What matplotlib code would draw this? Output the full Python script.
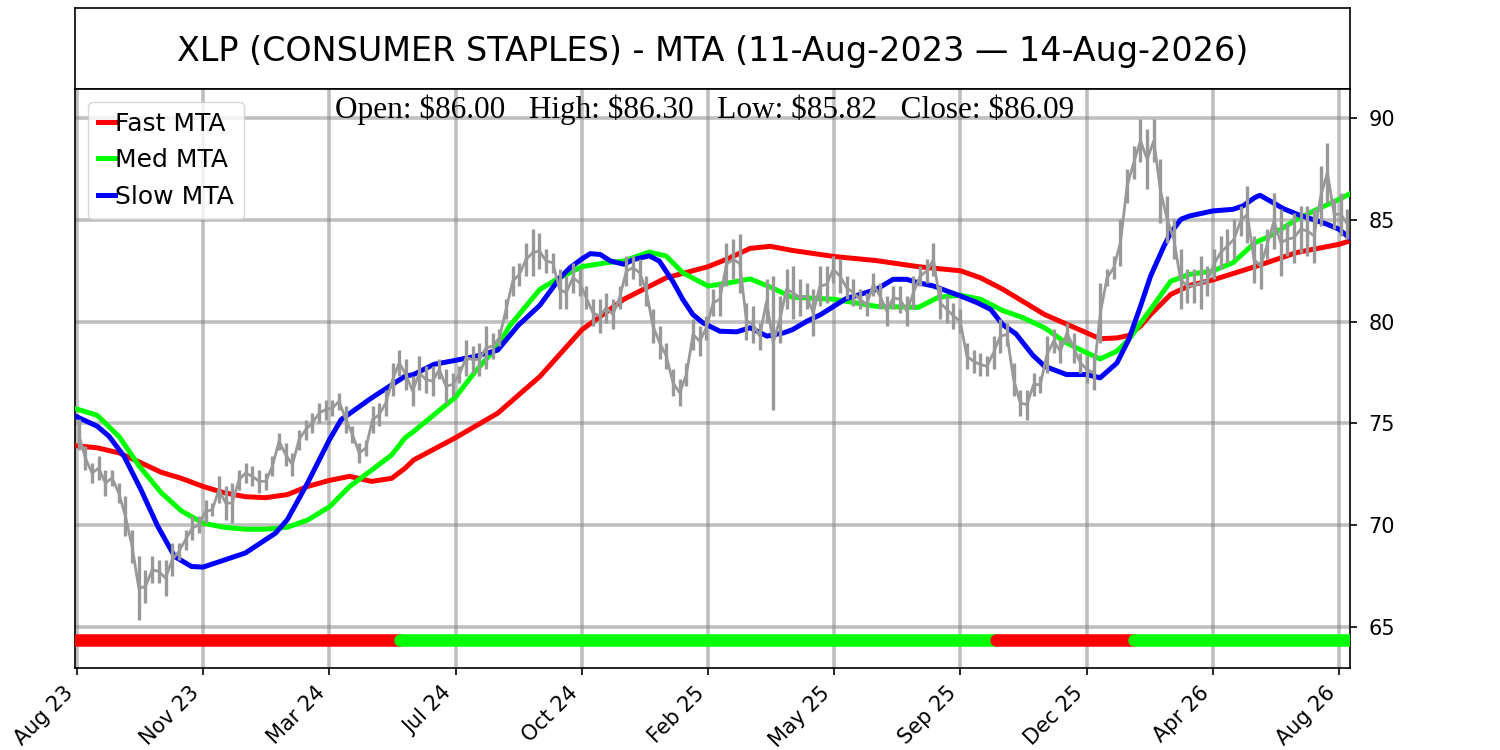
import numpy as np
import matplotlib
matplotlib.use('Agg')
import matplotlib.pyplot as plt

# x axis is bar index (trading days), labels every 75 bars
tick_idx = [0, 75, 150, 225, 300, 375, 450, 525, 600, 675, 750]
tick_labels = ['Aug 23', 'Nov 23', 'Mar 24', 'Jul 24', 'Oct 24', 'Feb 25',
               'May 25', 'Sep 25', 'Dec 25', 'Apr 26', 'Aug 26']

# price range per ~4-bar bucket
price_hi = [75.2, 73.87, 73.05, 73.38, 72.73, 72.73, 72.07, 71.41, 69.77, 68.46,
            67.8, 68.46, 68.3, 68.3, 69.12, 69.12, 69.77, 70.43, 70.43, 71.25,
            71.09, 72.4, 71.91, 72.07, 72.73, 73.05, 72.89, 72.73, 72.56, 73.38,
            74.53, 74.04, 73.55, 74.7, 75.19, 75.51, 76.0, 76.17, 76.17, 76.5,
            75.84, 74.86, 74.04, 74.2, 75.84, 76.0, 76.66, 77.97, 78.63,
            78.14, 77.32, 78.3, 77.81, 77.81, 78.14, 77.65, 77.48, 77.81, 79.12,
            78.8, 78.96, 79.78, 79.45, 79.62, 81.09, 82.73, 82.9, 83.88, 84.54,
            84.37, 83.55, 83.39, 82.57, 82.24, 82.9, 82.57, 81.75, 81.09, 81.09,
            81.42, 81.09, 81.75, 83.22, 83.22, 83.06, 82.24, 80.6, 79.78, 78.96,
            77.65, 77.16, 77.97, 80.11, 79.78, 80.27, 81.58,
            81.91, 83.88, 84.05, 84.29, 80.93, 80.77, 79.94, 82.08, 82.24, 81.26,
            82.57, 82.73, 82.08, 81.91, 81.58, 82.73, 82.73, 83.22, 83.06, 82.24,
            82.08, 81.58, 81.42, 82.4, 81.91, 81.26, 81.75, 81.75, 81.26, 82.24,
            82.73, 83.06, 83.88, 81.75, 81.26, 80.93, 80.6, 78.96, 78.63, 78.47,
            78.3, 79.29, 80.11, 79.94, 77.97, 76.66, 76.66,
            77.48, 77.32, 79.29, 79.62, 79.12, 79.94, 79.45, 78.47, 78.3, 78.3,
            81.91, 82.57, 83.22, 85.03, 87.49, 88.64, 89.95, 89.46, 89.95, 87.98,
            86.18, 85.03, 83.55, 82.57, 82.57, 83.22, 82.73, 83.55, 84.21, 84.54,
            85.03, 85.69, 86.67, 84.21, 83.88, 84.54, 86.34, 85.52, 84.87, 85.36,
            85.69, 85.69, 85.52, 87.65, 88.8, 86.01, 86.34, 85.52]
price_lo = [73.7, 72.73, 72.07, 72.23, 71.41, 71.91, 71.09, 69.45, 68.13, 65.34,
            66.17, 67.15, 67.15, 66.5, 67.48, 68.3, 68.79, 69.28, 69.61, 70.1,
            70.43, 71.09, 70.27, 70.1, 71.74, 72.07, 71.91, 71.58, 71.74, 72.4,
            73.71, 72.89, 72.4, 73.71, 74.2, 74.53, 75.02, 75.19, 75.35, 75.68,
            74.53, 74.04, 73.05, 73.38, 74.53, 74.86, 75.35, 76.33, 77.32,
            76.66, 75.84, 76.66, 76.5, 76.34, 77.16, 76.01, 76.34, 76.99, 77.32,
            77.48, 77.32, 77.65, 78.14, 78.8, 80.11, 81.26, 81.75, 82.24, 82.24,
            82.57, 82.4, 82.4, 80.6, 80.6, 81.42, 81.26, 80.6, 79.78, 79.45,
            79.94, 79.62, 80.6, 81.75, 82.08, 81.75, 80.77, 78.96, 78.14, 77.65,
            76.34, 75.84, 76.83, 78.63, 78.3, 79.12, 80.27,
            80.27, 81.75, 82.08, 81.42, 79.12, 78.96, 78.63, 79.94, 75.68, 78.96,
            80.6, 80.11, 80.27, 80.6, 79.29, 80.77, 80.93, 81.91, 81.42, 81.09,
            80.77, 80.6, 80.27, 81.26, 80.6, 79.78, 80.6, 80.44, 79.78, 80.6,
            81.75, 81.91, 82.24, 80.11, 79.94, 79.62, 79.45, 77.65, 77.48, 77.32,
            77.32, 77.65, 78.47, 78.8, 76.34, 75.35, 75.19,
            76.34, 76.5, 77.48, 78.47, 77.98, 78.96, 77.98, 77.48, 76.99, 76.66,
            78.96, 81.75, 82.08, 82.73, 85.85, 87.0, 87.82, 86.51, 87.82, 84.87,
            83.88, 83.06, 80.6, 80.93, 80.93, 80.6, 81.26, 82.08, 82.57, 82.9,
            83.06, 84.21, 83.88, 81.91, 81.58, 83.06, 83.55, 82.24, 83.22, 82.9,
            83.39, 83.22, 82.9, 84.7, 85.85, 84.54, 84.21, 84.05]

# MTA lines
fast_idx = [0, 12, 25, 37, 50, 62, 75, 87, 100, 112, 125, 137, 150, 162, 175, 187,
            195, 200, 225, 250, 275, 300, 325, 350, 375, 387, 400, 412, 425, 450,
            475, 500, 525, 537, 550, 562, 575, 600, 608, 618, 625, 632, 638, 650,
            662, 675, 700, 725, 750, 756]
fast_val = [73.9, 73.8, 73.55, 73.1, 72.6, 72.3, 71.9, 71.6, 71.4, 71.35, 71.5, 71.9,
            72.2, 72.4, 72.15, 72.3, 72.8, 73.2, 74.3, 75.5, 77.3, 79.6, 81.1, 82.15,
            82.7, 83.1, 83.6, 83.7, 83.5, 83.2, 83.0, 82.7, 82.5, 82.15, 81.6, 81.0,
            80.35, 79.45, 79.16, 79.2, 79.32, 79.78, 80.35, 81.34, 81.8, 82.05, 82.7,
            83.4, 83.8, 83.96]

med_idx = [0, 12, 25, 37, 50, 62, 75, 87, 100, 112, 125, 137, 150, 162, 175, 187,
           195, 200, 225, 236, 250, 257, 275, 285, 300, 315, 325, 340, 350, 360, 375,
           387, 400, 412, 425, 450, 475, 500, 512, 525, 537, 550, 562, 575, 587, 600,
           608, 618, 625, 638, 650, 661, 675, 687, 700, 709, 725, 737, 750, 756]
med_val = [75.7, 75.4, 74.35, 72.9, 71.6, 70.7, 70.1, 69.9, 69.8, 69.8, 69.9, 70.25,
           70.9, 71.9, 72.7, 73.45, 74.3, 74.6, 76.3, 77.48, 78.8, 79.78, 81.58, 82.08,
           82.7, 82.9, 82.98, 83.42, 83.23, 82.4, 81.75, 81.9, 82.1, 81.7, 81.2, 81.1,
           80.75, 80.7, 81.2, 81.3, 81.1, 80.55, 80.2, 79.7, 79.0, 78.47, 78.17, 78.55,
           79.12, 80.6, 81.99, 82.32, 82.49, 82.9, 83.88, 84.21, 85.03, 85.52, 86.01,
           86.26]

slow_idx = [0, 12, 19, 28, 38, 48, 58, 68, 75, 88, 100, 118, 125, 137, 150, 157, 175,
            195, 200, 212, 225, 237, 250, 262, 275, 287, 293, 300, 305, 311, 317, 325,
            331, 340, 346, 354, 360, 366, 372, 382, 392, 400, 410, 420, 425, 434, 442,
            450, 457, 475, 485, 493, 500, 509, 525, 535, 543, 550, 558, 568, 575, 588,
            600, 608, 618, 625, 632, 638, 646, 650, 656, 661, 675, 687, 693, 700, 703,
            709, 717, 725, 737, 743, 750, 756]
slow_val = [75.32, 74.86, 74.37, 73.38, 71.74, 69.94, 68.46, 67.97, 67.94, 68.3, 68.63,
            69.61, 70.27, 72.07, 74.2, 75.19, 76.25, 77.32, 77.4, 77.9, 78.1, 78.3, 78.6,
            79.8, 80.8, 82.15, 82.65, 83.08, 83.34, 83.3, 82.98, 82.82, 83.06, 83.23,
            82.98, 81.99, 81.09, 80.35, 79.94, 79.53, 79.5, 79.7, 79.29, 79.45, 79.6,
            80.03, 80.35, 80.77, 81.13, 81.58, 82.08, 82.08, 81.91, 81.75, 81.26, 80.93,
            80.6, 79.86, 79.4, 78.35, 77.81, 77.4, 77.4, 77.24, 77.97, 79.12, 80.76,
            82.24, 83.72, 84.37, 85.03, 85.19, 85.44, 85.52, 85.69, 86.1, 86.21, 85.93,
            85.55, 85.28, 84.95, 84.78, 84.54, 84.13]

# signal strip segments (start bar, end bar, colour)
sig_start = [0, 192, 546, 628]
sig_end = [192, 546, 628, 756]
sig_color = ['#ff0000', '#00ff00', '#ff0000', '#00ff00']
sig_level = 64.36

fig = plt.figure(figsize=(15, 7.5), dpi=100)
ax_t = fig.add_axes([0.05, 0.8813, 0.85, 0.1074])
ax = fig.add_axes([0.05, 0.1093, 0.85, 0.772])

ax_t.set_xticks([])
ax_t.set_yticks([])
ax_t.text(0.5, 0.47, 'XLP (CONSUMER STAPLES) - MTA (11-Aug-2023 \u2014 14-Aug-2026)',
          ha='center', va='center', fontsize=24, transform=ax_t.transAxes)
for sp in ax_t.spines.values():
    sp.set_linewidth(1.2)
for sp in ax.spines.values():
    sp.set_linewidth(1.2)

ax.grid(True, color='gray', alpha=0.5, linewidth=2.6)
ax.set_axisbelow(True)

ax.plot(fast_idx, fast_val, color='#ff0000', lw=3.6, label='Fast MTA', zorder=3)
ax.plot(med_idx, med_val, color='#00ff00', lw=3.6, label='Med MTA', zorder=3)
ax.plot(slow_idx, slow_val, color='#0000ff', lw=3.6, label='Slow MTA', zorder=3)

n = len(price_hi)
bar_x = np.linspace(1, 755, n)
mid = (np.array(price_hi) + np.array(price_lo)) / 2
ax.vlines(bar_x, price_lo, price_hi, color='#999999', lw=2.4, zorder=4)
ax.plot(bar_x, mid, color='#999999', lw=2.0, zorder=4)

for s, e, c in zip(sig_start, sig_end, sig_color):
    ax.plot([s, e], [sig_level, sig_level], color=c, lw=9,
            solid_capstyle='round', zorder=5)

ax.set_xlim(-1.2, 756.5)
ax.set_ylim(62.98, 91.43)
ax.set_xticks(tick_idx)
ax.set_xticklabels(tick_labels, rotation=45, ha='right', fontsize=15)
ax.set_yticks([65, 70, 75, 80, 85, 90])
ax.yaxis.tick_right()
ax.tick_params(axis='y', labelsize=15)
ax.tick_params(length=5.25, width=1.2, pad=5.25)
ax.tick_params(axis='y', pad=8)

ax.text(0.494, 0.99, 'Open: \\$86.00   High: \\$86.30   Low: \\$85.82   Close: \\$86.09',
        transform=ax.transAxes, ha='center', va='top', fontsize=22.5,
        family='Liberation Serif', zorder=6)

leg = ax.legend(loc='upper left', fontsize=18, handlelength=0.7,
                handletextpad=0.0)
leg.set_zorder(7)

fig.savefig('out.png', dpi=100)
